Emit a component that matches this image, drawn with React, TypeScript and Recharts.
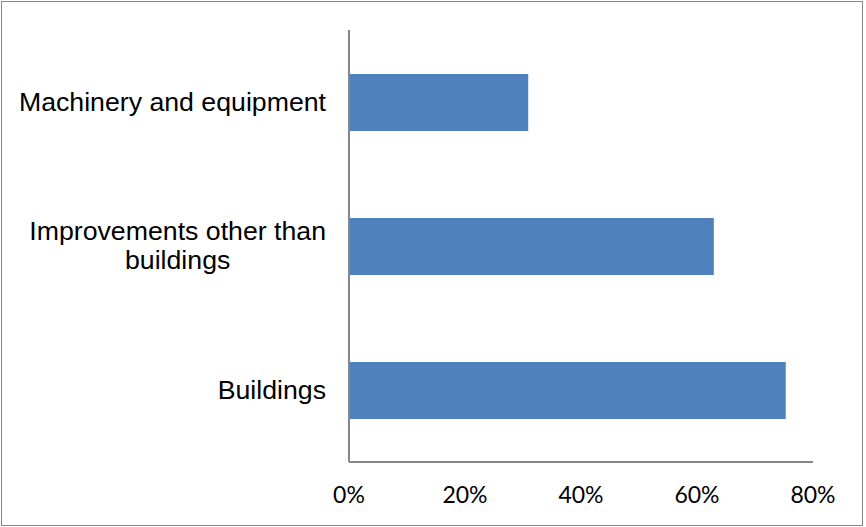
import { Bar, BarChart, XAxis, YAxis } from "recharts"

const categories = ["Machinery and equipment", "Improvements other than buildings", "Buildings"]
const shares = [0.309, 0.629, 0.753]
const xTicks = [0, 0.2, 0.4, 0.6, 0.8]

const data = categories.map((name, i) => ({ name, value: shares[i] }))

const labelSize = 26.7
const labelFamily = "'Liberation Sans', Arial, sans-serif"
let ctx: CanvasRenderingContext2D | null = null
function measure(text: string) {
  if (!ctx) ctx = document.createElement("canvas").getContext("2d")
  if (!ctx) return text.length * 13
  ctx.font = `${labelSize}px ${labelFamily}`
  return ctx.measureText(text).width
}

function wrap(text: string, maxWidth: number) {
  const words = text.split(" ")
  const lines: string[] = []
  let cur = ""
  for (const w of words) {
    const next = cur ? cur + " " + w : w
    if (cur && measure(next) > maxWidth) {
      lines.push(cur)
      cur = w
    } else cur = next
  }
  if (cur) lines.push(cur)
  return lines
}

function CategoryTick(props: any) {
  const { x, y, payload } = props
  const lines = wrap(String(payload.value), 312)
  const widest = Math.max(...lines.map(measure))
  const cx = x - widest / 2
  const lh = 29
  const y0 = y - ((lines.length - 1) * lh) / 2
  return (
    <g>
      {lines.map((l, i) => (
        <text
          key={i}
          x={cx}
          y={y0 + i * lh}
          dy="0.32em"
          textAnchor="middle"
          fontSize={labelSize}
          fontFamily={labelFamily}
          fill="#000"
        >
          {l}
        </text>
      ))}
    </g>
  )
}

export default function App() {
  return (
    <div style={{ position: "relative", width: 866, height: 527 }}>
      <style>{"body{margin:0}"}</style>
      <BarChart
        width={866}
        height={527}
        data={data}
        layout="vertical"
        margin={{ top: 30, right: 53, bottom: 0, left: 0 }}
      >
        <XAxis
          type="number"
          domain={[0, 0.8]}
          ticks={xTicks}
          tickFormatter={(v) => `${Math.round(v * 100)}%`}
          height={65}
          tickSize={0}
          tickMargin={25}
          tickLine={false}
          axisLine={{ stroke: "#868686", strokeWidth: 2 }}
          tick={{ fill: "#000", fontSize: 23, fontFamily: "Lato, sans-serif" }}
          allowDataOverflow
        />
        <YAxis
          type="category"
          dataKey="name"
          width={349}
          tickSize={0}
          tickMargin={23}
          tickLine={false}
          axisLine={{ stroke: "#868686", strokeWidth: 2 }}
          tick={<CategoryTick />}
          interval={0}
        />
        <Bar dataKey="value" fill="#4F81BD" barSize={57} isAnimationActive={false} />
      </BarChart>
      <div
        style={{
          position: "absolute",
          left: 1,
          top: 1,
          width: 860,
          height: 523,
          border: "1px solid #868686",
          pointerEvents: "none",
        }}
      />
    </div>
  )
}
